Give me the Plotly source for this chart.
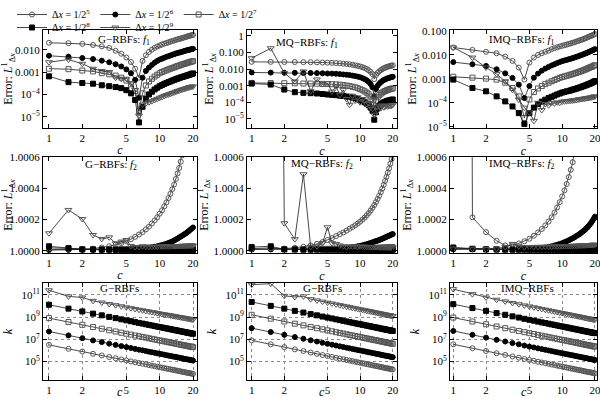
import plotly.graph_objects as go

# ---------------- data ----------------
C = [1, 1.5, 2, 2.5, 3, 3.5, 4, 4.5, 5, 5.5, 6, 6.5, 7, 7.5, 8, 8.5, 9, 9.5, 10,
     10.5, 11, 11.5, 12, 12.5, 13, 13.5, 14, 14.5, 15, 15.5, 16, 16.5, 17, 17.5,
     18, 18.5, 19, 19.5, 20]

SERIES_NAMES = ["Δ<i>x</i> = 1/2<sup>5</sup>", "Δ<i>x</i> = 1/2<sup>6</sup>",
                "Δ<i>x</i> = 1/2<sup>7</sup>", "Δ<i>x</i> = 1/2<sup>8</sup>",
                "Δ<i>x</i> = 1/2<sup>9</sup>"]

X_TICKS = [1, 2, 5, 10, 20]

# Row 1: log10 of the L1 error for f1
G_F1_LOG_DX5 = [-1.69,-1.71,-1.74,-1.79,-1.85,-1.92,-2.05,-2.18,-2.35,-2.55,-2.85,-3.25,-2.50,-2.25,-2.10,-2.00,-1.92,-1.86,-1.81,-1.77,-1.73,-1.70,-1.67,-1.64,-1.61,-1.59,-1.56,-1.54,-1.52,-1.50,-1.48,-1.46,-1.44,-1.42,-1.40,-1.38,-1.37,-1.35,-1.34]
G_F1_LOG_DX6 = [-2.27,-2.31,-2.37,-2.42,-2.49,-2.56,-2.65,-2.75,-2.88,-3.05,-3.35,-4.15,-3.25,-2.95,-2.80,-2.68,-2.58,-2.50,-2.44,-2.40,-2.36,-2.32,-2.29,-2.26,-2.23,-2.20,-2.17,-2.15,-2.13,-2.11,-2.09,-2.07,-2.05,-2.03,-2.02,-2.00,-1.99,-1.97,-1.96]
G_F1_LOG_DX7 = [-2.85,-2.87,-2.93,-2.97,-3.05,-3.10,-3.16,-3.25,-3.38,-3.55,-3.85,-4.75,-3.95,-3.60,-3.42,-3.30,-3.20,-3.12,-3.05,-3.00,-2.96,-2.92,-2.88,-2.85,-2.82,-2.79,-2.76,-2.73,-2.71,-2.68,-2.66,-2.64,-2.62,-2.60,-2.58,-2.56,-2.54,-2.53,-2.51]
G_F1_LOG_DX8 = [-3.19,-3.45,-3.49,-3.52,-3.59,-3.63,-3.67,-3.72,-3.81,-3.95,-4.25,-5.25,-4.55,-4.20,-4.00,-3.88,-3.78,-3.70,-3.63,-3.58,-3.53,-3.49,-3.45,-3.42,-3.38,-3.35,-3.32,-3.29,-3.27,-3.24,-3.22,-3.20,-3.18,-3.16,-3.14,-3.12,-3.10,-3.08,-3.06]
G_F1_LOG_DX9 = [-2.56,-2.44,-2.63,-2.85,-2.95,-3.00,-3.25,-3.30,-3.30,-3.50,-3.80,-4.95,-4.45,-4.40,-4.35,-4.30,-4.25,-4.20,-4.15,-4.11,-4.07,-4.03,-4.00,-3.97,-3.94,-3.91,-3.88,-3.85,-3.83,-3.80,-3.78,-3.76,-3.74,-3.72,-3.70,-3.68,-3.67,-3.65,-3.64]

MQ_F1_LOG_DX5 = [-1.56,-1.56,-1.57,-1.57,-1.58,-1.58,-1.59,-1.60,-1.61,-1.62,-1.63,-1.65,-1.67,-1.69,-1.71,-1.74,-1.77,-1.80,-1.84,-1.88,-1.93,-1.99,-2.07,-2.17,-2.30,-2.60,-2.35,-2.22,-2.13,-2.06,-2.00,-1.95,-1.91,-1.88,-1.85,-1.83,-1.81,-1.79,-1.77]
MQ_F1_LOG_DX6 = [-2.20,-2.21,-2.22,-2.22,-2.23,-2.23,-2.24,-2.25,-2.26,-2.27,-2.28,-2.30,-2.32,-2.34,-2.36,-2.39,-2.42,-2.45,-2.49,-2.54,-2.60,-2.67,-2.77,-2.90,-3.10,-3.65,-3.20,-3.00,-2.88,-2.79,-2.72,-2.66,-2.62,-2.58,-2.55,-2.52,-2.50,-2.48,-2.46]
MQ_F1_LOG_DX7 = [-2.83,-2.84,-2.85,-2.86,-2.87,-2.87,-2.88,-2.89,-2.90,-2.91,-2.92,-2.94,-2.96,-2.99,-3.02,-3.06,-3.10,-3.15,-3.21,-3.27,-3.34,-3.42,-3.52,-3.65,-3.85,-4.35,-3.90,-3.70,-3.57,-3.48,-3.41,-3.36,-3.32,-3.28,-3.25,-3.22,-3.20,-3.18,-3.16]
MQ_F1_LOG_DX8 = [-2.87,-2.93,-3.23,-3.39,-3.43,-3.45,-3.47,-3.50,-3.53,-3.55,-3.57,-3.60,-3.62,-3.65,-3.68,-3.72,-3.76,-3.81,-3.87,-3.93,-4.00,-4.08,-4.18,-4.32,-4.52,-5.05,-4.60,-4.35,-4.22,-4.13,-4.06,-4.01,-3.97,-3.94,-3.91,-3.89,-3.87,-3.85,-3.83]
MQ_F1_LOG_DX9 = [-1.34,-0.74,-2.24,-2.74,-2.14,-3.33,-2.62,-2.90,-2.85,-3.35,-3.05,-3.55,-3.25,-3.80,-4.15,-3.60,-3.90,-3.70,-4.00,-3.80,-3.90,-4.10,-4.05,-4.30,-4.40,-4.75,-4.30,-4.50,-4.20,-4.35,-4.20,-4.30,-4.25,-4.20,-4.25,-4.20,-4.22,-4.20,-4.15]

IMQ_F1_LOG_DX5 = [-1.69,-1.79,-1.87,-1.93,-2.07,-2.25,-2.53,-3.03,-2.32,-2.11,-2.00,-1.93,-1.87,-1.82,-1.76,-1.72,-1.68,-1.65,-1.62,-1.59,-1.57,-1.54,-1.52,-1.49,-1.47,-1.44,-1.42,-1.39,-1.37,-1.35,-1.32,-1.30,-1.27,-1.25,-1.22,-1.20,-1.18,-1.15,-1.13]
IMQ_F1_LOG_DX6 = [-2.30,-2.39,-2.46,-2.60,-2.77,-2.96,-3.24,-3.80,-3.30,-2.95,-2.78,-2.66,-2.57,-2.50,-2.44,-2.39,-2.34,-2.30,-2.26,-2.23,-2.21,-2.18,-2.16,-2.13,-2.11,-2.08,-2.06,-2.03,-2.01,-1.98,-1.96,-1.93,-1.91,-1.88,-1.86,-1.83,-1.81,-1.78,-1.76]
IMQ_F1_LOG_DX7 = [-2.91,-2.95,-2.99,-3.03,-3.16,-3.38,-3.73,-4.63,-3.86,-3.55,-3.40,-3.30,-3.22,-3.16,-3.10,-3.05,-3.00,-2.96,-2.92,-2.90,-2.87,-2.85,-2.82,-2.80,-2.77,-2.75,-2.72,-2.70,-2.67,-2.65,-2.62,-2.60,-2.57,-2.55,-2.52,-2.50,-2.48,-2.45,-2.43]
IMQ_F1_LOG_DX8 = [-3.03,-3.38,-3.52,-3.73,-3.94,-4.15,-4.43,-4.88,-4.43,-4.20,-4.05,-3.95,-3.87,-3.80,-3.75,-3.70,-3.65,-3.61,-3.57,-3.55,-3.52,-3.50,-3.48,-3.45,-3.43,-3.41,-3.38,-3.36,-3.34,-3.31,-3.29,-3.27,-3.24,-3.22,-3.20,-3.17,-3.15,-3.12,-3.10]
IMQ_F1_LOG_DX9 = [-1.69,-2.11,-2.53,-2.80,-3.10,-3.45,-3.87,-4.20,-4.40,-4.75,-4.00,-4.30,-4.05,-4.10,-4.00,-4.02,-3.98,-4.00,-3.95,-3.94,-3.93,-3.92,-3.91,-3.90,-3.89,-3.88,-3.86,-3.85,-3.84,-3.83,-3.82,-3.81,-3.80,-3.79,-3.78,-3.77,-3.76,-3.74,-3.73]

# Row 2: L1 error for f2
G_F2_DX5 = [1.000005,1.000007,1.00001,1.000015,1.000022,1.00003,1.00004,1.00005,1.000062,1.000075,1.00009,1.000105,1.00012,1.000138,1.000155,1.000175,1.000195,1.000215,1.000238,1.00026,1.000285,1.00031,1.000338,1.000365,1.000395,1.000425,1.00046,1.000495,1.00053,1.00057,1.00061,1.00065,1.000695,1.00074,1.00079,1.00084,1.00089,1.000945,1.001]
G_F2_DX6 = [1.00001,1.000008,1.000007,1.000007,1.000007,1.000008,1.000008,1.000009,1.00001,1.000011,1.000013,1.000015,1.000017,1.000019,1.000021,1.000024,1.000027,1.00003,1.000034,1.000038,1.000042,1.000046,1.000051,1.000056,1.000061,1.000067,1.000073,1.000079,1.000086,1.000092,1.000098,1.000104,1.00011,1.000116,1.000123,1.00013,1.000137,1.000143,1.00015]
G_F2_DX7 = [1.00002,1.000015,1.000012,1.000012,1.000012,1.000012,1.000012,1.000012,1.000013,1.000013,1.000013,1.000014,1.000014,1.000015,1.000015,1.000016,1.000016,1.000017,1.000017,1.000018,1.000018,1.000019,1.000019,1.00002,1.00002,1.000021,1.000021,1.000022,1.000022,1.000023,1.000023,1.000024,1.000024,1.000025,1.000025,1.000026,1.000026,1.000027,1.000027]
G_F2_DX8 = [1.00003,1.000018,1.00001,1.000009,1.000008,1.000008,1.000007,1.000007,1.000007,1.000007,1.000006,1.000006,1.000006,1.000006,1.000006,1.000006,1.000006,1.000006,1.000006,1.000006,1.000006,1.000006,1.000006,1.000006,1.000006,1.000006,1.000006,1.000006,1.000006,1.000006,1.000006,1.000006,1.000006,1.000006,1.000006,1.000006,1.000006,1.000006,1.000006]
G_F2_DX9 = [1.000113,1.000262,1.000204,1.000102,1.000077,1.000087,1.000049,1.00006,1.00007,1.000032,1.000025,1.000025,1.00003,1.000028,1.000027,1.000026,1.000027,1.000028,1.000028,1.000029,1.000029,1.00003,1.00003,1.00003,1.000031,1.000031,1.000031,1.000032,1.000032,1.000032,1.000033,1.000033,1.000033,1.000034,1.000034,1.000034,1.000035,1.000035,1.000035]

MQ_F2_DX5 = [1.00001,1.000012,1.000015,1.00002,1.000027,1.000035,1.000045,1.000057,1.00007,1.000082,1.000095,1.000107,1.000118,1.00013,1.000142,1.000153,1.000164,1.000175,1.000187,1.0002,1.000213,1.000227,1.000242,1.000258,1.000275,1.000293,1.000312,1.000332,1.000353,1.000375,1.000398,1.000422,1.000447,1.000473,1.0005,1.000528,1.000557,1.000587,1.00062]
MQ_F2_DX6 = [1.00001,1.00001,1.00001,1.00001,1.00001,1.00001,1.00001,1.00001,1.00001,1.000011,1.000012,1.000013,1.000015,1.000017,1.00002,1.000023,1.000027,1.00003,1.000033,1.000036,1.00004,1.000043,1.000047,1.000051,1.000055,1.000059,1.000063,1.000066,1.00007,1.000074,1.000078,1.000082,1.000086,1.00009,1.000094,1.000098,1.000101,1.000105,1.000108]
MQ_F2_DX7 = [1.000015,1.00002,1.000012,1.000012,1.000012,1.000013,1.000013,1.000013,1.000014,1.000014,1.000014,1.000015,1.000015,1.000015,1.000016,1.000016,1.000016,1.000017,1.000017,1.000017,1.000018,1.000018,1.000018,1.000019,1.000019,1.000019,1.00002,1.00002,1.00002,1.000021,1.000021,1.000021,1.000022,1.000022,1.000022,1.000023,1.000023,1.000024,1.000024]
MQ_F2_DX8 = [1.000025,1.00003,1.00001,1.000009,1.000008,1.000008,1.000008,1.000008,1.000008,1.000008,1.000008,1.000008,1.000008,1.000008,1.000008,1.000008,1.000008,1.000008,1.000008,1.000008,1.000008,1.000008,1.000008,1.000008,1.000008,1.000008,1.000008,1.000008,1.000008,1.000008,1.000008,1.000008,1.000008,1.000008,1.000008,1.000008,1.000008,1.000008,1.000008]
MQ_F2_DX9 = [1.02,1.01,1.000177,1.000075,1.00049,1.000027,1.00003,1.00005,1.000151,1.00005,1.000045,1.000035,1.00003,1.000025,1.00003,1.000028,1.00003,1.000027,1.000028,1.000027,1.000027,1.000026,1.000026,1.000026,1.000025,1.000025,1.000025,1.000025,1.000024,1.000024,1.000024,1.000024,1.000024,1.000023,1.000023,1.000023,1.000023,1.000023,1.000023]

IMQ_F2_DX5 = [1.03,1.000215,1.00012,1.000065,1.000035,1.000038,1.000048,1.000062,1.000078,1.000097,1.000118,1.00014,1.000163,1.000188,1.000215,1.000245,1.000278,1.000312,1.000348,1.000387,1.000428,1.000472,1.000518,1.000567,1.00062,1.000675,1.000735,1.0008,1.00087,1.00094,1.00102,1.0011,1.00119,1.00128,1.00138,1.00148,1.00159,1.0017,1.00182]
IMQ_F2_DX6 = [1.00001,1.00001,1.00001,1.00001,1.00001,1.00001,1.00001,1.00001,1.00001,1.000012,1.000015,1.000018,1.000022,1.000026,1.00003,1.000035,1.00004,1.000045,1.00005,1.000056,1.000062,1.000068,1.000075,1.000081,1.000088,1.000095,1.000102,1.000109,1.000117,1.000125,1.000133,1.000141,1.00015,1.00016,1.00017,1.000181,1.000193,1.000206,1.000219]
IMQ_F2_DX7 = [1.00002,1.000015,1.000012,1.000012,1.000013,1.000013,1.000013,1.000014,1.000014,1.000014,1.000015,1.000015,1.000015,1.000016,1.000016,1.000016,1.000017,1.000017,1.000017,1.000018,1.000018,1.000018,1.000019,1.000019,1.000019,1.00002,1.00002,1.00002,1.000021,1.000021,1.000021,1.000022,1.000022,1.000022,1.000024,1.000026,1.000028,1.00003,1.00003]
IMQ_F2_DX8 = [1.000022,1.000012,1.00001,1.000009,1.000008,1.000008,1.000008,1.000008,1.000008,1.000008,1.000008,1.000008,1.000008,1.000008,1.000008,1.000008,1.000008,1.000008,1.000008,1.000008,1.000008,1.000008,1.000008,1.000008,1.000008,1.000008,1.000008,1.000008,1.000008,1.000008,1.000008,1.000008,1.000008,1.000008,1.000008,1.000008,1.000008,1.000008,1.000008]
IMQ_F2_DX9 = [1.000015,1.000015,1.000012,1.000015,1.000025,1.000045,1.00003,1.000025,1.000025,1.000026,1.000026,1.000027,1.000027,1.000028,1.000028,1.000029,1.000029,1.00003,1.00003,1.000031,1.000031,1.000032,1.000032,1.000033,1.000033,1.000034,1.000034,1.000035,1.000035,1.000036,1.000036,1.000037,1.000037,1.000038,1.000038,1.000039,1.000039,1.00004,1.00004]

# Row 3: log10 of the condition number k
G_K_LOG_DX5 = [6.50,6.15,5.90,5.70,5.55,5.41,5.30,5.19,5.10,5.02,4.94,4.87,4.81,4.75,4.69,4.64,4.59,4.54,4.50,4.46,4.42,4.38,4.34,4.31,4.27,4.24,4.21,4.18,4.15,4.12,4.09,4.06,4.04,4.01,3.99,3.97,3.94,3.92,3.90]
G_K_LOG_DX6 = [7.70,7.35,7.10,6.90,6.75,6.61,6.50,6.39,6.30,6.22,6.14,6.07,6.01,5.95,5.89,5.84,5.79,5.74,5.70,5.66,5.62,5.58,5.54,5.51,5.47,5.44,5.41,5.38,5.35,5.32,5.29,5.26,5.24,5.21,5.19,5.17,5.14,5.12,5.10]
G_K_LOG_DX7 = [8.90,8.55,8.30,8.10,7.95,7.81,7.70,7.59,7.50,7.42,7.34,7.27,7.21,7.15,7.09,7.04,6.99,6.94,6.90,6.86,6.82,6.78,6.74,6.71,6.67,6.64,6.61,6.58,6.55,6.52,6.49,6.46,6.44,6.41,6.39,6.37,6.34,6.32,6.30]
G_K_LOG_DX8 = [10.10,9.75,9.50,9.30,9.15,9.01,8.90,8.79,8.70,8.62,8.54,8.47,8.41,8.35,8.29,8.24,8.19,8.14,8.10,8.06,8.02,7.98,7.94,7.91,7.87,7.84,7.81,7.78,7.75,7.72,7.69,7.66,7.64,7.61,7.59,7.57,7.54,7.52,7.50]
G_K_LOG_DX9 = [11.40,10.85,10.75,10.45,10.30,10.17,10.06,9.96,9.87,9.79,9.72,9.65,9.60,9.54,9.49,9.44,9.40,9.35,9.31,9.27,9.24,9.20,9.17,9.14,9.11,9.08,9.05,9.02,9.00,8.97,8.95,8.92,8.90,8.88,8.85,8.83,8.81,8.79,8.77]

MQ_K_LOG_DX5 = [6.90,6.55,6.30,6.10,5.95,5.81,5.70,5.59,5.50,5.42,5.34,5.27,5.21,5.15,5.09,5.04,4.99,4.94,4.90,4.86,4.82,4.78,4.74,4.71,4.67,4.64,4.61,4.58,4.55,4.52,4.49,4.46,4.44,4.41,4.39,4.37,4.34,4.32,4.30]
MQ_K_LOG_DX6 = [8.00,7.65,7.40,7.20,7.05,6.91,6.80,6.69,6.60,6.52,6.44,6.37,6.31,6.25,6.19,6.14,6.09,6.04,6.00,5.96,5.92,5.88,5.84,5.81,5.77,5.74,5.71,5.68,5.65,5.62,5.59,5.56,5.54,5.51,5.49,5.47,5.44,5.42,5.40]
MQ_K_LOG_DX7 = [9.20,8.85,8.60,8.40,8.25,8.11,8.00,7.89,7.80,7.72,7.64,7.57,7.51,7.45,7.39,7.34,7.29,7.24,7.20,7.16,7.12,7.08,7.04,7.01,6.97,6.94,6.91,6.88,6.85,6.82,6.79,6.76,6.74,6.71,6.69,6.67,6.64,6.62,6.60]
MQ_K_LOG_DX8 = [10.35,10.00,9.75,9.55,9.40,9.26,9.15,9.04,8.95,8.87,8.79,8.72,8.66,8.60,8.54,8.49,8.44,8.39,8.35,8.31,8.27,8.23,8.19,8.16,8.12,8.09,8.06,8.03,8.00,7.97,7.94,7.91,7.89,7.86,7.84,7.82,7.79,7.77,7.75]
MQ_K_LOG_DX9 = [11.90,11.99,10.90,10.80,10.85,10.60,10.49,10.38,10.29,10.21,10.13,10.06,10.00,9.94,9.88,9.83,9.78,9.73,9.69,9.65,9.61,9.57,9.53,9.50,9.46,9.43,9.40,9.37,9.34,9.31,9.28,9.25,9.23,9.20,9.18,9.16,9.13,9.11,9.09]

IMQ_K_LOG_DX5 = [6.55,6.20,5.95,5.75,5.60,5.46,5.35,5.24,5.15,5.07,4.99,4.92,4.86,4.80,4.74,4.69,4.64,4.59,4.55,4.51,4.47,4.43,4.39,4.36,4.32,4.29,4.26,4.23,4.20,4.17,4.14,4.11,4.09,4.06,4.04,4.02,3.99,3.97,3.95]
IMQ_K_LOG_DX6 = [7.75,7.40,7.15,6.95,6.80,6.66,6.55,6.44,6.35,6.27,6.19,6.12,6.06,6.00,5.94,5.89,5.84,5.79,5.75,5.71,5.67,5.63,5.59,5.56,5.52,5.49,5.46,5.43,5.40,5.37,5.34,5.31,5.29,5.26,5.24,5.22,5.19,5.17,5.15]
IMQ_K_LOG_DX7 = [8.95,8.60,8.35,8.15,8.00,7.86,7.75,7.64,7.55,7.47,7.39,7.32,7.26,7.20,7.14,7.09,7.04,6.99,6.95,6.91,6.87,6.83,6.79,6.76,6.72,6.69,6.66,6.63,6.60,6.57,6.54,6.51,6.49,6.46,6.44,6.42,6.39,6.37,6.35]
IMQ_K_LOG_DX8 = [10.15,9.80,9.55,9.35,9.20,9.06,8.95,8.84,8.75,8.67,8.59,8.52,8.46,8.40,8.34,8.29,8.24,8.19,8.15,8.11,8.07,8.03,7.99,7.96,7.92,7.89,7.86,7.83,7.80,7.77,7.74,7.71,7.69,7.66,7.64,7.62,7.59,7.57,7.55]
IMQ_K_LOG_DX9 = [11.50,11.05,10.75,10.55,10.40,10.26,10.15,10.04,9.95,9.87,9.79,9.72,9.66,9.60,9.54,9.49,9.44,9.39,9.35,9.31,9.27,9.23,9.19,9.16,9.12,9.09,9.06,9.03,9.00,8.97,8.94,8.91,8.89,8.86,8.84,8.82,8.79,8.77,8.75]

PANEL_TITLES = ["G−RBFs: <i>f</i><sub>1</sub>", "MQ−RBFs: <i>f</i><sub>1</sub>", "IMQ−RBFs: <i>f</i><sub>1</sub>",
                "G−RBFs: <i>f</i><sub>2</sub>", "MQ−RBFs: <i>f</i><sub>2</sub>", "IMQ−RBFs: <i>f</i><sub>2</sub>",
                "G−RBFs", "G−RBFs", "IMQ−RBFs"]

ROW1_TICKS = [
    ([0.01, 0.001, 1e-4, 1e-5], ["0.010", "0.001", "10<sup>−4</sup>", "10<sup>−5</sup>"]),
    ([1, 0.1, 0.01, 0.001, 1e-4, 1e-5], ["1", "0.100", "0.010", "0.001", "10<sup>−4</sup>", "10<sup>−5</sup>"]),
    ([0.1, 0.01, 0.001, 1e-4, 1e-5], ["0.100", "0.010", "0.001", "10<sup>−4</sup>", "10<sup>−5</sup>"]),
]
ROW2_TICKS = ([1.0, 1.0002, 1.0004, 1.0006], ["1.0000", "1.0002", "1.0004", "1.0006"])
ROW3_TICKS = ([1e5, 1e7, 1e9, 1e11], ["10<sup>5</sup>", "10<sup>7</sup>", "10<sup>9</sup>", "10<sup>11</sup>"])

PANEL_SERIES = [
    [G_F1_LOG_DX5, G_F1_LOG_DX6, G_F1_LOG_DX7, G_F1_LOG_DX8, G_F1_LOG_DX9],
    [MQ_F1_LOG_DX5, MQ_F1_LOG_DX6, MQ_F1_LOG_DX7, MQ_F1_LOG_DX8, MQ_F1_LOG_DX9],
    [IMQ_F1_LOG_DX5, IMQ_F1_LOG_DX6, IMQ_F1_LOG_DX7, IMQ_F1_LOG_DX8, IMQ_F1_LOG_DX9],
    [G_F2_DX5, G_F2_DX6, G_F2_DX7, G_F2_DX8, G_F2_DX9],
    [MQ_F2_DX5, MQ_F2_DX6, MQ_F2_DX7, MQ_F2_DX8, MQ_F2_DX9],
    [IMQ_F2_DX5, IMQ_F2_DX6, IMQ_F2_DX7, IMQ_F2_DX8, IMQ_F2_DX9],
    [G_K_LOG_DX5, G_K_LOG_DX6, G_K_LOG_DX7, G_K_LOG_DX8, G_K_LOG_DX9],
    [MQ_K_LOG_DX5, MQ_K_LOG_DX6, MQ_K_LOG_DX7, MQ_K_LOG_DX8, MQ_K_LOG_DX9],
    [IMQ_K_LOG_DX5, IMQ_K_LOG_DX6, IMQ_K_LOG_DX7, IMQ_K_LOG_DX8, IMQ_K_LOG_DX9],
]
for p, group in enumerate(PANEL_SERIES):
    for s, arr in enumerate(group):
        assert len(arr) == len(C), (p, s, len(arr))

# ---------------- styling / layout ----------------
W, H = 600, 398
FONT = "Liberation Serif, Times New Roman, serif"
STYLES = [("circle-open", "#555555", 5), ("circle", "#000000", 5),
          ("square-open", "#555555", 5), ("square", "#000000", 5),
          ("triangle-down-open", "#555555", 6)]
COL_PX = [(43, 197), (247, 397), (450, 597)]
ROW_PX = [(30, 128), (157, 253), (283, 380)]
X_RANGES = [[-0.054, 1.337], [-0.043, 1.340], [-0.030, 1.320]]
Y_RANGES = [[-5.5, -1.12], [-5.55, 0.36], [-5.05, -0.96]]
TITLE_POS = [(124, 40), (307, 43), (522, 40), (111, 165), (322, 164), (522, 164),
             (119, 288), (322, 288), (527, 288)]

fig = go.Figure()
for p, group in enumerate(PANEL_SERIES):
    row = p // 3
    k = p + 1
    xa = "x" if k == 1 else f"x{k}"
    ya = "y" if k == 1 else f"y{k}"
    for s, arr in enumerate(group):
        yvals = arr if row == 1 else [10 ** v for v in arr]
        sym, col, size = STYLES[s]
        fig.add_trace(go.Scatter(
            x=C, y=yvals, xaxis=xa, yaxis=ya, mode="lines+markers",
            name=SERIES_NAMES[s], showlegend=(p == 0),
            legend="legend" if s < 3 else "legend2",
            line=dict(color="#1a1a1a", width=0.8),
            marker=dict(symbol=sym, color=col, size=size,
                        line=dict(color=col, width=1)),
        ))

layout = dict(width=W, height=H, margin=dict(l=0, r=0, t=0, b=0, autoexpand=False),
              paper_bgcolor="white", plot_bgcolor="white",
              font=dict(family=FONT, size=11, color="black"))
axis_common = dict(showline=True, linecolor="black", linewidth=1, mirror="ticks",
                   ticks="inside", ticklen=4, tickcolor="black", zeroline=False,
                   ticklabeloverflow="allow", automargin=False,
                   tickfont=dict(family=FONT, size=11))
annotations = []
for p in range(9):
    row, colm = divmod(p, 3)
    k = p + 1
    x0, x1 = COL_PX[colm]
    y0, y1 = ROW_PX[row]
    xk = "xaxis" if k == 1 else f"xaxis{k}"
    yk = "yaxis" if k == 1 else f"yaxis{k}"
    grid = row == 2
    xdict = dict(axis_common, domain=[x0 / W, x1 / W], anchor="y" if k == 1 else f"y{k}",
                 type="log", range=X_RANGES[colm], tickvals=X_TICKS,
                 ticktext=[str(t) for t in X_TICKS],
                 showgrid=grid, gridcolor="#8c8c8c", griddash="dot", gridwidth=1)
    if row < 2:
        xdict["title"] = dict(text="<i>c</i>", standoff=2, font=dict(size=12))
    else:
        # bottom row: the axis title sits at the very bottom edge of the figure
        annotations.append(dict(text="<i>c</i>", x=(x0 + x1) / 2 / W, y=-2 / H,
                                xref="paper", yref="paper", xanchor="center", yanchor="bottom",
                                showarrow=False, borderpad=0,
                                font=dict(family=FONT, size=12, color="black")))
    layout[xk] = xdict
    ydict = dict(axis_common, domain=[1 - y1 / H, 1 - y0 / H], anchor="x" if k == 1 else f"x{k}",
                 showgrid=grid, gridcolor="#8c8c8c", griddash="dot", gridwidth=1)
    if row == 0:
        tv, tt = ROW1_TICKS[colm]
        ydict.update(type="log", range=Y_RANGES[colm], tickvals=tv, ticktext=tt,
                     title=dict(text="Error: <i>L</i><sup>1</sup><sub>Δ<i>x</i></sub>", standoff=2,
                                font=dict(size=12)))
    elif row == 1:
        tv, tt = ROW2_TICKS
        ydict.update(type="linear", range=[0.999987, 1.0006], tickvals=tv, ticktext=tt,
                     title=dict(text="Error: <i>L</i><sup>1</sup><sub>Δ<i>x</i></sub>", standoff=2,
                                font=dict(size=12)))
    else:
        tv, tt = ROW3_TICKS
        ydict.update(type="log", range=[3.35, 12.05], tickvals=tv, ticktext=tt,
                     title=dict(text="<i>k</i>", standoff=6, font=dict(size=12)))
    layout[yk] = ydict
    tx, ty = TITLE_POS[p]
    annotations.append(dict(text=PANEL_TITLES[p], x=tx / W, y=1 - ty / H, xref="paper", yref="paper",
                            xanchor="center", yanchor="middle", showarrow=False,
                            font=dict(family=FONT, size=11, color="black")))
layout["annotations"] = annotations
leg_common = dict(orientation="h", xanchor="left", yanchor="top", bgcolor="rgba(0,0,0,0)",
                  font=dict(family=FONT, size=10, color="black"), itemwidth=30,
                  tracegroupgap=0, borderwidth=0)
layout["legend"] = dict(leg_common, x=0.02, y=1.0)
layout["legend2"] = dict(leg_common, x=0.02, y=1 - 13 / H)
fig.update_layout(**layout)

# remove the browser's default page margin so the figure sits at the window origin
fig.write_html("out.html", config={"displayModeBar": False},
               post_script="document.body.style.margin='0';document.body.style.padding='0';")
